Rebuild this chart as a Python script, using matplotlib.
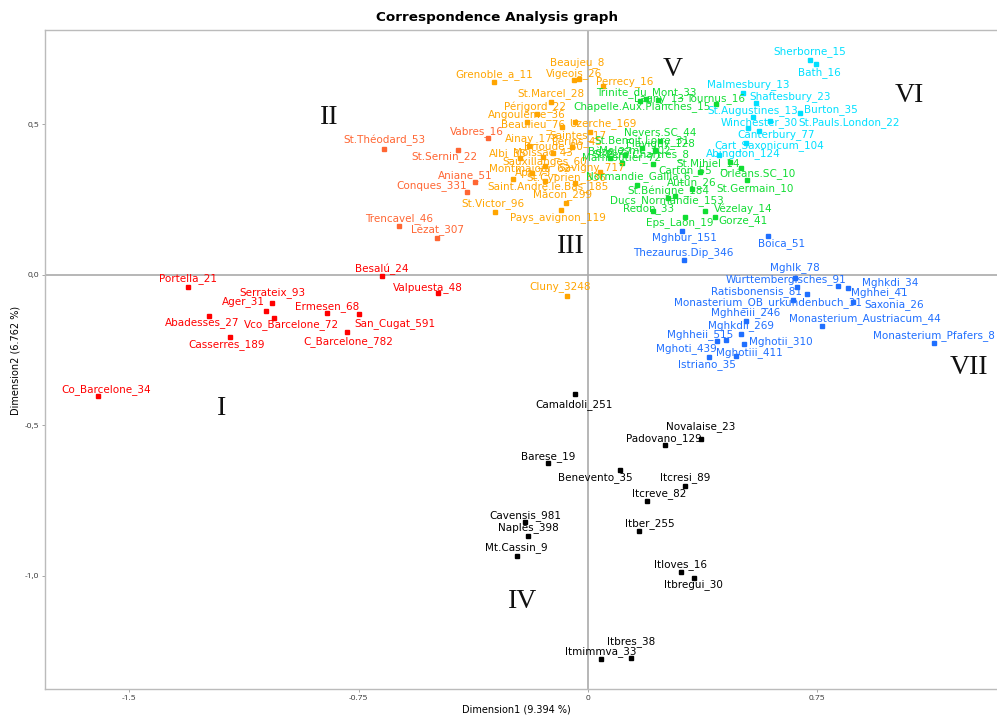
import matplotlib
matplotlib.use("Agg")
import matplotlib.pyplot as plt

# ---------------- data ----------------
g1_names = ["Co_Barcelone_34", "Portella_21", "Serrateix_93", "Ager_31", "Vco_Barcelone_72",
            "Abadesses_27", "Casserres_189", "Ermesen_68", "San_Cugat_591", "C_Barcelone_782",
            "Besalú_24", "Valpuesta_48"]
g1_x = [-1.603, -1.307, -1.033, -1.054, -1.026, -1.240, -1.172, -0.854, -0.749, -0.787, -0.673, -0.491]
g1_y = [-0.403, -0.040, -0.095, -0.120, -0.143, -0.138, -0.206, -0.128, -0.132, -0.192, -0.004, -0.062]

g2_names = ["St.Théodard_53", "Vabres_16", "St.Sernin_22", "Aniane_51", "Conques_331",
            "Trencavel_46", "Lézat_307"]
g2_x = [-0.667, -0.326, -0.424, -0.370, -0.395, -0.617, -0.493]
g2_y = [0.418, 0.454, 0.414, 0.309, 0.273, 0.161, 0.121]

g3_names = ["Grenoble_a_11", "Vigeois_26", "Beaujeu_8", "Perrecy_16", "St.Marcel_28", "Périgord_22",
            "Angoulême_36", "Beaulieu_76", "Uzerche_169", "Ainay_178", "Saintes_17", "Lérins_45",
            "Brioude_80", "Albi_35", "Moissac_43", "Sauxillanges_60", "Montmajour_62", "Apt_73",
            "St.Cyprien_336", "Saint.André.le.Bas_185", "Savigny_717", "Mâcon_299", "St.Victor_96",
            "Pays_avignon_119", "Cluny_3248"]
g3_x = [-0.307, -0.046, -0.028, 0.050, -0.121, -0.167, -0.199, -0.086, -0.043, -0.192, 0.007, -0.052,
        -0.114, -0.222, -0.147, -0.141, -0.183, -0.245, -0.043, -0.141, 0.039, -0.072, -0.304,
        -0.088, -0.069]
g3_y = [0.641, 0.645, 0.649, 0.626, 0.574, 0.533, 0.507, 0.489, 0.508, 0.427, 0.475, 0.424,
        0.404, 0.387, 0.391, 0.361, 0.337, 0.317, 0.304, 0.311, 0.341, 0.238, 0.209,
        0.215, -0.071]

g5_names = ["Trinite_du_Mont_33", "Lagny_13", "Tournus_16", "Chapelle.Aux.Planches_15", "Nevers.SC_44",
            "St.Benoit.Loire_31", "Flavigny_128", "Molesme_102", "St.Père.Chartres_8", "Marmoutier_72",
            "Bèze_27", "Normandie_Gallia_6", "St.Mihiel_14", "Carton_55", "Orléans.SC_10",
            "St.Germain_10", "Autun_26", "St.Bénigne_184", "Ducs_Normandie_153", "Redon_33",
            "Vézelay_14", "Gorze_41", "Eps_Laon_19"]
g5_x = [0.190, 0.170, 0.419, 0.229, 0.235, 0.177, 0.219, 0.121, 0.212, 0.110, 0.072, 0.160, 0.464,
        0.366, 0.500, 0.519, 0.339, 0.285, 0.262, 0.214, 0.383, 0.415, 0.317]
g5_y = [0.583, 0.577, 0.567, 0.580, 0.444, 0.420, 0.414, 0.397, 0.366, 0.370, 0.387, 0.298, 0.375,
        0.340, 0.354, 0.314, 0.283, 0.261, 0.254, 0.212, 0.211, 0.191, 0.190]

g6_names = ["Sherborne_15", "Bath_16", "Malmesbury_13", "Shaftesbury_23", "St.Augustines_13",
            "Burton_35", "Winchester_30", "St.Pauls.London_22", "Canterbury_77",
            "Cart_Saxonicum_104", "Abingdon_124"]
g6_x = [0.726, 0.746, 0.508, 0.548, 0.539, 0.693, 0.522, 0.595, 0.559, 0.516, 0.429]
g6_y = [0.713, 0.698, 0.602, 0.569, 0.522, 0.537, 0.486, 0.510, 0.478, 0.438, 0.397]

g7_names = ["Mghbur_151", "Boica_51", "Thezaurus.Dip_346", "Mghlk_78", "Württembergisches_91",
            "Mghkdi_34", "Mghhei_41", "Ratisbonensis_81", "Monasterium_OB_urkundenbuch_31",
            "Saxonia_26", "Mghheiii_246", "Monasterium_Austriacum_44", "Mghkdii_269", "Mghheii_515",
            "Mghotii_310", "Monasterium_Pfafers_8", "Mghoti_439", "Mghotiii_411", "Istriano_35"]
g7_x = [0.308, 0.588, 0.314, 0.677, 0.684, 0.819, 0.849, 0.715, 0.669, 0.868, 0.517, 0.766, 0.499,
        0.451, 0.511, 1.131, 0.423, 0.484, 0.397]
g7_y = [0.145, 0.128, 0.048, -0.010, -0.040, -0.038, -0.045, -0.065, -0.084, -0.090, -0.154, -0.171,
        -0.197, -0.217, -0.230, -0.228, -0.221, -0.269, -0.275]

g4_names = ["Camaldoli_251", "Novalaise_23", "Padovano_129", "Barese_19", "Benevento_35", "Itcresi_89",
            "Itcreve_82", "Cavensis_981", "Itber_255", "Naples_398", "Mt.Cassin_9", "Itloves_16",
            "Itbregui_30", "Itbres_38", "Itmimmva_33"]
g4_x = [-0.043, 0.369, 0.252, -0.130, 0.105, 0.317, 0.194, -0.206, 0.167, -0.195, -0.233, 0.303,
        0.347, 0.140, 0.043]
g4_y = [-0.397, -0.547, -0.566, -0.627, -0.649, -0.701, -0.751, -0.823, -0.851, -0.868, -0.934,
        -0.987, -1.009, -1.274, -1.278]

cluster_names = ["I", "II", "III", "IV", "V", "VI", "VII"]
cluster_x = [-1.197, -0.847, -0.056, -0.213, 0.278, 1.050, 1.246]
cluster_y = [-0.443, 0.523, 0.092, -1.084, 0.680, 0.596, -0.310]

x_ticks = [-1.5, -0.75, 0, 0.75]
x_tick_labels = ["-1.5", "-0.75", "0", "0.75"]
y_ticks = [0.5, 0.0, -0.5, -1.0]
y_tick_labels = ["0,5", "0,0", "-0,5", "-1,0"]

# ---------------- label offsets (pixels, dy up) ----------------
g1_off = [(8, 6), (0, 8), (0, 11), (-22, 9), (17, -7), (-7, -6), (-3, -8), (0, 7), (36, -9),
          (1, -9), (0, 7), (-10, 6)]
g2_off = [(0, 8), (-11, 6), (-14, -7), (-10, 6), (-36, 7), (0, 8), (0, 8)]
g3_off = [(0, 7), (0, 7), (-2, 17), (21, 5), (0, 8), (-2, 7), (0, 7), (-29, 3), (28, -2), (3, 8),
          (-12, -4), (5, 5), (0, 6), (-12, 5), (0, 4), (0, 4), (-2, 5), (20, 7), (-9, 6), (3, -6),
          (-8, 4), (-3, 8), (-2, 8), (-3, -8), (-7, 9)]
g5_off = [(0, 7), (19, 2), (-1, 5), (-16, -7), (0, 8), (0, 8), (5, 6), (10, 5), (-12, 9), (0, 6),
          (0, 6), (1, 8), (-22, -2), (-15, 2), (17, -6), (8, -8), (0, 7), (-7, 5), (-1, -2), (-5, 2),
          (38, 2), (28, -3), (-5, -5)]
g6_off = [(0, 8), (3, -8), (5, 9), (35, 7), (0, 7), (31, 3), (12, 6), (79, -1), (17, -4), (23, -3),
          (24, 2)]
g7_off = [(2, -7), (14, -7), (-1, 8), (0, 10), (-11, 7), (52, 4), (32, -4), (-50, 3), (-25, -3),
          (41, -3), (0, 8), (43, 8), (0, 8), (-26, 5), (37, 2), (0, 8), (-31, -7), (13, 3), (-2, -7)]
g4_off = [(-1, -10), (0, 13), (-1, 7), (0, 7), (-25, -7), (0, 8), (12, 7), (0, 7), (11, 7), (0, 8),
          (0, 8), (0, 7), (-1, -6), (0, 17), (0, 8)]

groups = [
    (g1_names, g1_x, g1_y, g1_off, "#ff0000"),
    (g2_names, g2_x, g2_y, g2_off, "#ff6633"),
    (g3_names, g3_x, g3_y, g3_off, "#ffa500"),
    (g5_names, g5_x, g5_y, g5_off, "#11dd33"),
    (g6_names, g6_x, g6_y, g6_off, "#00e0ff"),
    (g7_names, g7_x, g7_y, g7_off, "#1f6fff"),
    (g4_names, g4_x, g4_y, g4_off, "#000000"),
]

# ---------------- figure ----------------
fig = plt.figure(figsize=(9.97, 7.16), dpi=100)
ax = fig.add_axes([0.0454, 0.0377, 0.9546, 0.9204])
ax.set_xlim(-1.775, 1.3375)
ax.set_ylim(-1.376, 0.8124)

ax.axhline(0, color="#aaaaaa", lw=1.2, zorder=1)
ax.axvline(0, color="#aaaaaa", lw=1.2, zorder=1)

for names, xs, ys, offs, col in groups:
    ax.plot(xs, ys, "s", color=col, markersize=3, zorder=3, linestyle="none")
    for n, x, y, (dx, dy) in zip(names, xs, ys, offs):
        ax.annotate(n, (x, y), xytext=(dx, dy), textcoords="offset pixels",
                    ha="center", va="center", color=col, fontsize=7.5,
                    family="DejaVu Sans", zorder=4)

for n, x, y in zip(cluster_names, cluster_x, cluster_y):
    ax.text(x, y, n, ha="center", va="center", fontsize=20, family="Liberation Serif",
            color="#111111", zorder=5)

for s in ["left", "top", "bottom"]:
    ax.spines[s].set_color("#bbbbbb")
    ax.spines[s].set_linewidth(1.0)
ax.spines["right"].set_visible(False)

ax.set_xticks(x_ticks)
ax.set_xticklabels(x_tick_labels, fontsize=6, family="Open Sans", color="#333333")
ax.set_yticks(y_ticks)
ax.set_yticklabels(y_tick_labels, fontsize=6, family="Open Sans", color="#333333")
ax.tick_params(axis="both", length=2.5, width=0.6, color="#999999", pad=2)

fig.text(497 / 997, 1 - 18 / 716, "Correspondence Analysis graph", ha="center", va="center",
         fontsize=9.7, fontweight="bold", family="DejaVu Sans")
fig.text(516 / 997, 1 - 709 / 716, "Dimension1 (9.394 %)", ha="center", va="center",
         fontsize=7, family="DejaVu Sans")
fig.text(15 / 997, 1 - 360 / 716, "Dimension2 (6.762 %)", ha="center", va="center",
         fontsize=7, family="DejaVu Sans", rotation=90)

fig.savefig("out.png", dpi=100)
